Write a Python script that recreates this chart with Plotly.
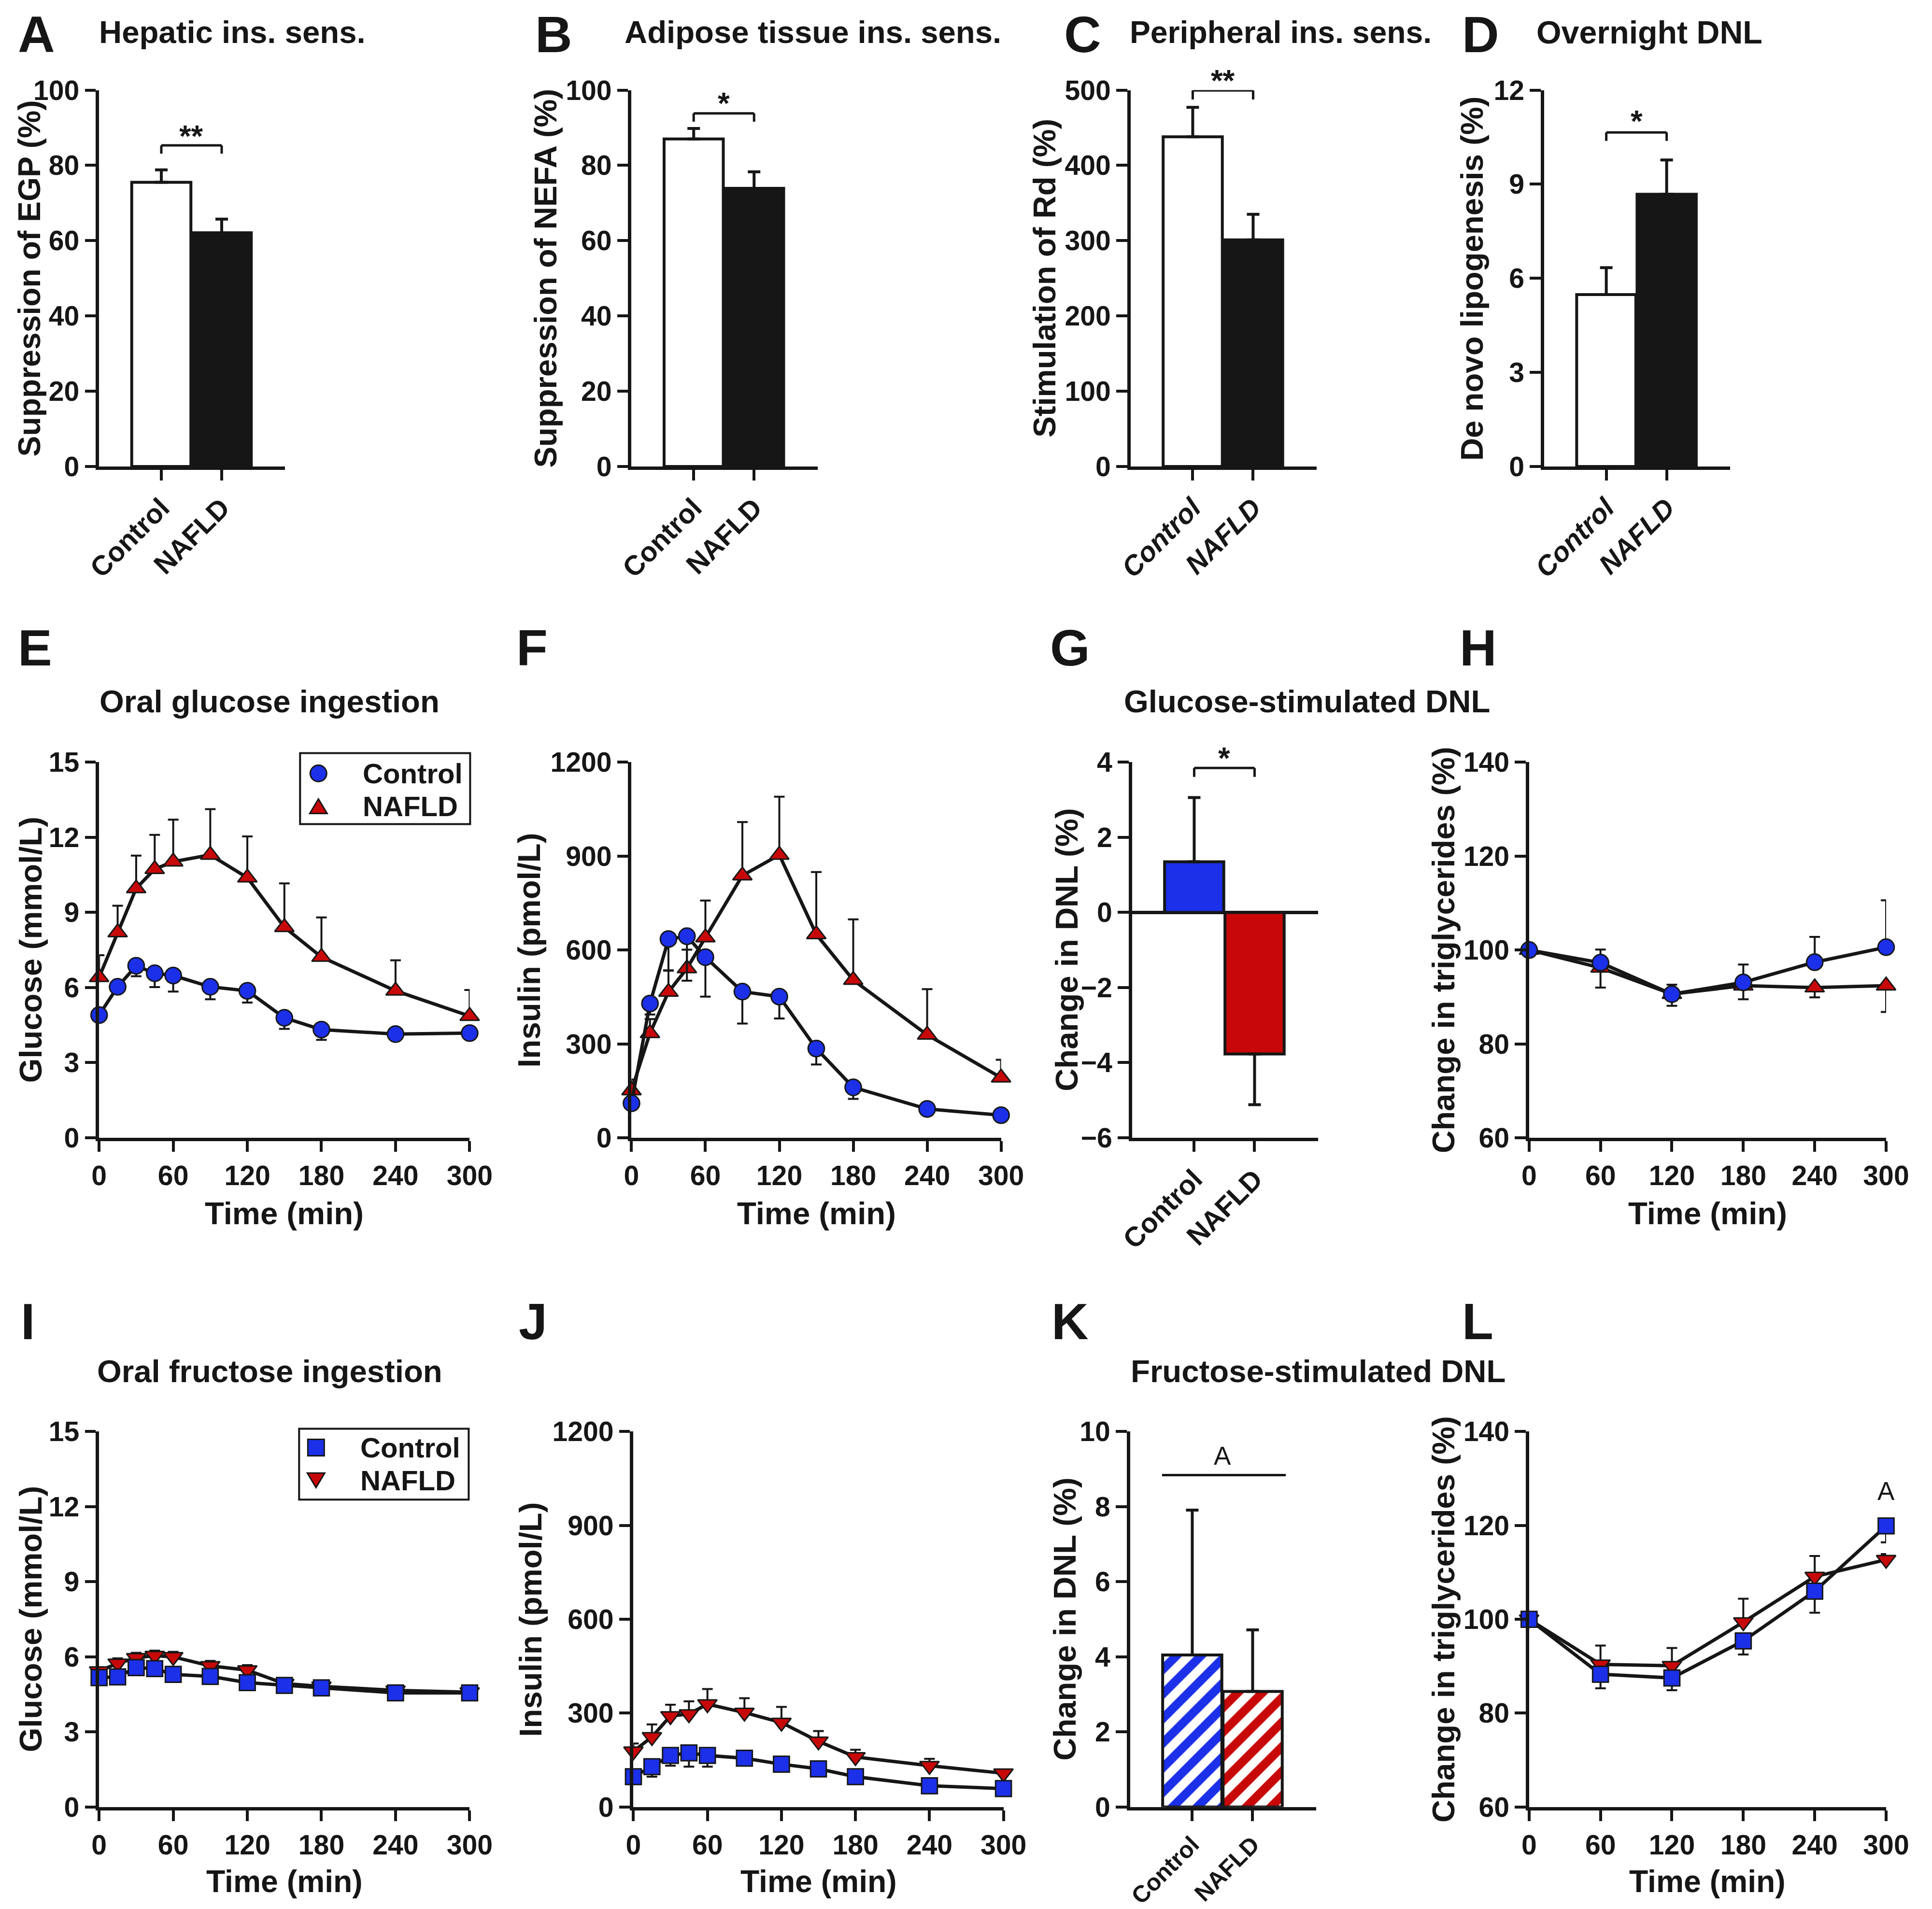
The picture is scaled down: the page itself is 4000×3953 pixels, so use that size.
import plotly.graph_objects as go

# All positions below are given in pixels of the 4000 x 3953 target picture.
# The photographed page shows the figure slightly reduced and shifted,
# after the 8 px body margin; fx/fy undo that mapping.
S_X, S_Y = 0.98, 0.9835
AX, AY = 30, 29.5
BODY = 8
W, H = 3992, 3945

INK = "#161616"
BLUE = "#1b30e8"
RED = "#c80808"
FONT = "Liberation Sans, Arial, Helvetica, sans-serif"

# ---------------- data ----------------
groups = ["Control", "NAFLD"]

egp_supp = [75.5, 62.1]
egp_supp_se = [3.3, 3.6]
nefa_supp = [87.0, 73.9]
nefa_supp_se = [2.8, 4.4]
rd_stim = [438, 301]
rd_stim_se = [39, 34]
dnl_overnight = [5.48, 8.68]
dnl_overnight_se = [0.86, 1.09]
dnl_glucose = [1.35, -3.77]
dnl_glucose_se = [1.71, 1.35]
dnl_fructose = [4.05, 3.08]
dnl_fructose_se = [3.86, 1.64]

time_min = [0, 15, 30, 45, 60, 90, 120, 150, 180, 240, 300]
time_tg = [0, 60, 120, 180, 240, 300]
time_ticks = [0, 60, 120, 180, 240, 300]

glu_ctrl = [4.9, 6.03, 6.87, 6.57, 6.48, 6.03, 5.87, 4.79, 4.32, 4.14, 4.18]
glu_ctrl_se = [0.1, 0.2, 0.42, 0.55, 0.64, 0.5, 0.47, 0.44, 0.41, 0.1, 0.1]
glu_nafld = [6.41, 8.2, 9.96, 10.73, 11.03, 11.3, 10.39, 8.41, 7.22, 5.87, 4.86]
glu_nafld_se = [0.88, 1.07, 1.31, 1.37, 1.68, 1.83, 1.65, 1.75, 1.58, 1.22, 1.04]

ins_ctrl = [110, 429, 635, 644, 577, 467, 451, 285, 161, 92, 72]
ins_ctrl_se = [20, 35, 100, 142, 126, 102, 70, 51, 37, 15, 10]
ins_nafld = [151, 334, 466, 541, 640, 838, 904, 650, 504, 329, 192]
ins_nafld_se = [35, 45, 68, 60, 118, 171, 186, 199, 194, 146, 57]

tg_glu_ctrl = [100, 97.3, 90.6, 93.1, 97.4, 100.6]
tg_glu_ctrl_se = [0, 2.8, 2.0, 3.8, 5.4, 10.0]
tg_glu_nafld = [100, 96.2, 90.6, 92.4, 92.0, 92.4]
tg_glu_nafld_se = [0, 4.2, 2.5, 2.9, 2.1, 5.6]

fglu_ctrl = [5.17, 5.2, 5.57, 5.53, 5.3, 5.22, 4.97, 4.86, 4.76, 4.56, 4.56]
fglu_ctrl_se = [0.15, 0.15, 0.2, 0.2, 0.15, 0.15, 0.15, 0.1, 0.1, 0.1, 0.1]
fglu_nafld = [5.43, 5.74, 5.96, 6.05, 6.0, 5.64, 5.47, 4.93, 4.82, 4.66, 4.59]
fglu_nafld_se = [0.15, 0.2, 0.2, 0.2, 0.2, 0.2, 0.2, 0.1, 0.1, 0.1, 0.1]

fins_ctrl = [97, 129, 165, 173, 165, 156, 137, 122, 97, 68, 59]
fins_ctrl_se = [15, 32, 33, 44, 36, 20, 15, 12, 10, 8, 6]
fins_nafld = [178, 224, 291, 297, 329, 302, 270, 210, 160, 132, 108]
fins_nafld_se = [25, 40, 36, 41, 48, 46, 50, 33, 23, 22, 12]

tg_fru_ctrl = [100, 88.3, 87.5, 95.4, 106.0, 119.9]
tg_fru_ctrl_se = [0, 3.0, 2.6, 2.9, 4.6, 3.5]
tg_fru_nafld = [100, 90.4, 90.1, 99.4, 109.1, 112.7]
tg_fru_nafld_se = [0, 4.0, 3.8, 5.0, 4.4, 1.2]

# significance: (label, bracket level, tick drop, label level)
sig_A = ("**", 85.3, 2.2, 89.6)
sig_B = ("*", 93.8, 2.2, 98.3)
sig_C = ("**", 499.5, 12, 522)
sig_D = ("*", 10.65, 0.27, 11.24)
sig_G = ("*", 3.85, 0.24, 4.3)

# ---------------- helpers ----------------
fig = go.Figure()
axes = {}
annotations = []
shapes = []


def fx(px):
    return ((px - AX) / S_X - BODY) / W


def fy(py):
    return 1 - ((py - AY) / S_Y - BODY) / H


def fs(v):
    return v / S_X


def text(x, y, s, size, weight="bold", xanchor="center",
         yanchor="middle", angle=0):
    annotations.append(dict(xref="paper", yref="paper", x=fx(x), y=fy(y), text=s,
                            showarrow=False, xanchor=xanchor, yanchor=yanchor,
                            textangle=angle,
                            font=dict(family=FONT, size=fs(size), color=INK,
                                      weight=weight)))


def make_axes(n, x0, x1, top, bot, xr, yr, ytick, xtv, xtt, xangle,
              tstyle="normal", tsize=56, xtsize=56, zeroline=False):
    key = "" if n == 1 else str(n)
    common = dict(showline=True, linecolor=INK, linewidth=7, ticks="outside",
                  ticklen=fs(22), tickwidth=6, tickcolor=INK, showgrid=False,
                  fixedrange=True)
    axes["xaxis" + key] = dict(domain=[fx(x0), fx(x1)], range=xr, anchor="y" + key,
                               tickmode="array", tickvals=xtv, ticktext=xtt,
                               tickangle=xangle, zeroline=False,
                               tickfont=dict(family=FONT, size=fs(xtsize), color=INK,
                                             weight="bold", style=tstyle),
                               **common)
    axes["yaxis" + key] = dict(domain=[fy(bot), fy(top)], range=yr, anchor="x" + key,
                               tickmode="array", tickvals=ytick,
                               zeroline=zeroline, zerolinecolor=INK, zerolinewidth=7,
                               tickfont=dict(family=FONT, size=fs(tsize), color=INK,
                                             weight="bold"),
                               **common)
    return "x" + key, "y" + key, (x0, x1, top, bot, xr, yr)


def to_pic(geom, xv, yv):
    x0, x1, top, bot, xr, yr = geom
    px = x0 + (xv - xr[0]) / (xr[1] - xr[0]) * (x1 - x0)
    py = bot - (yv - yr[0]) / (yr[1] - yr[0]) * (bot - top)
    return px, py


def bar_panel(n, x0, top, bot, yr, ytick, means, ses, fills, patterns=None,
              italic=False, zeroline=False, xtsize=56):
    xa, ya, geom = make_axes(n, x0, x0 + 385, top, bot, [-1.03, 2.05], yr, ytick,
                             list(range(len(groups))), groups, -45,
                             tstyle="italic" if italic else "normal",
                             xtsize=xtsize, zeroline=zeroline)
    for i, g in enumerate(groups):
        m, s = means[i], ses[i]
        marker = dict(color=fills[i], line=dict(color=INK, width=6))
        if patterns:
            marker["pattern"] = dict(shape="/", fgcolor=patterns[i], bgcolor="white",
                                     size=36, solidity=0.5, fillmode="replace")
        fig.add_trace(go.Bar(x=[i], y=[m], width=0.98, marker=marker, name=g,
                             xaxis=xa, yaxis=ya, showlegend=False,
                             error_y=dict(type="data", symmetric=False,
                                          array=[s if m >= 0 else 0],
                                          arrayminus=[s if m < 0 else 0],
                                          color=INK, thickness=6, width=13)))
    return xa, ya, geom


def bracket(xa, ya, geom, sig, size=62):
    label, lvl, drop, ty = sig
    for (a, b, c, d) in [(0, lvl, 1, lvl), (0, lvl, 0, lvl - drop), (1, lvl, 1, lvl - drop)]:
        shapes.append(dict(type="line", xref=xa, yref=ya, x0=a, y0=b, x1=c, y1=d,
                           line=dict(color=INK, width=5)))
    px, py = to_pic(geom, 0.5, ty)
    text(px, py + 0.22 * size, label, size)


def line_panel(n, x0, x1, top, bot, yr, ytick, t, series):
    xa, ya, geom = make_axes(n, x0, x1, top, bot, [0, 300], yr, ytick, time_ticks,
                             [str(v) for v in time_ticks], 0)
    for y, se, updir, symbol, color, size in series:
        zeros = [0] * len(se)
        fig.add_trace(go.Scatter(
            x=t, y=y, mode="lines+markers", xaxis=xa, yaxis=ya, showlegend=False,
            cliponaxis=False,
            line=dict(color=INK, width=7),
            marker=dict(symbol=symbol, size=fs(size), color=color,
                        line=dict(color=INK, width=3)),
            error_y=dict(type="data", symmetric=False,
                         array=se if updir else zeros,
                         arrayminus=zeros if updir else se,
                         color=INK, thickness=4, width=11)))
    return xa, ya, geom


ROW1 = (184, 964)
ROW2 = (1577, 2355)
ROW3 = (2964, 3742)
RIGHT = (3164, 3903)

# ---------------- row 1 ----------------
xa, ya, g = bar_panel(1, 204, *ROW1, [0, 100], [0, 20, 40, 60, 80, 100],
                      egp_supp, egp_supp_se, ["white", INK])
bracket(xa, ya, g, sig_A)
xa, ya, g = bar_panel(2, 1306, *ROW1, [0, 100], [0, 20, 40, 60, 80, 100],
                      nefa_supp, nefa_supp_se, ["white", INK])
bracket(xa, ya, g, sig_B)
xa, ya, g = bar_panel(3, 2339, *ROW1, [0, 500], [0, 100, 200, 300, 400, 500],
                      rd_stim, rd_stim_se, ["white", INK], italic=True)
bracket(xa, ya, g, sig_C)
xa, ya, g = bar_panel(4, 3195, *ROW1, [0, 12], [0, 3, 6, 9, 12],
                      dnl_overnight, dnl_overnight_se, ["white", INK], italic=True)
bracket(xa, ya, g, sig_D)

# ---------------- row 2 ----------------
line_panel(5, 204, 971, *ROW2, [0, 15], [0, 3, 6, 9, 12, 15], time_min, [
    (glu_nafld, glu_nafld_se, True, "triangle-up", RED, 34),
    (glu_ctrl, glu_ctrl_se, False, "circle", BLUE, 33)])
line_panel(6, 1306, 2071, *ROW2, [0, 1200], [0, 300, 600, 900, 1200], time_min, [
    (ins_nafld, ins_nafld_se, True, "triangle-up", RED, 34),
    (ins_ctrl, ins_ctrl_se, False, "circle", BLUE, 33)])
xa, ya, g = bar_panel(7, 2342, *ROW2, [-6, 4], [-6, -4, -2, 0, 2, 4],
                      dnl_glucose, dnl_glucose_se, [BLUE, RED], zeroline=True)
bracket(xa, ya, g, sig_G)
line_panel(8, *RIGHT, *ROW2, [60, 140], [60, 80, 100, 120, 140], time_tg, [
    (tg_glu_nafld, tg_glu_nafld_se, False, "triangle-up", RED, 34),
    (tg_glu_ctrl, tg_glu_ctrl_se, True, "circle", BLUE, 33)])

# ---------------- row 3 ----------------
line_panel(9, 204, 971, *ROW3, [0, 15], [0, 3, 6, 9, 12, 15], time_min, [
    (fglu_nafld, fglu_nafld_se, True, "triangle-down", RED, 34),
    (fglu_ctrl, fglu_ctrl_se, False, "square", BLUE, 32)])
line_panel(10, 1310, 2076, *ROW3, [0, 1200], [0, 300, 600, 900, 1200], time_min, [
    (fins_nafld, fins_nafld_se, True, "triangle-down", RED, 34),
    (fins_ctrl, fins_ctrl_se, False, "square", BLUE, 32)])
xa, ya, g = bar_panel(11, 2338, *ROW3, [0, 10], [0, 2, 4, 6, 8, 10],
                      dnl_fructose, dnl_fructose_se, ["white", "white"],
                      patterns=[BLUE, RED], xtsize=48)
shapes.append(dict(type="line", xref=xa, yref=ya, x0=-0.5, x1=1.55, y0=8.84, y1=8.84,
                   line=dict(color=INK, width=5)))
px, py = to_pic(g, 0.5, 9.35)
text(px, py, "A", 52, weight="normal")
xa, ya, g = line_panel(12, *RIGHT, *ROW3, [60, 140], [60, 80, 100, 120, 140], time_tg, [
    (tg_fru_nafld, tg_fru_nafld_se, True, "triangle-down", RED, 34),
    (tg_fru_ctrl, tg_fru_ctrl_se, False, "square", BLUE, 32)])
px, py = to_pic(g, 300, 127.3)
text(px, py, "A", 52, weight="normal")

# ---------------- titles / letters ----------------
text(34, 68, "A", 104, xanchor="left")
text(1105, 68, "B", 104, xanchor="left")
text(2199, 68, "C", 104, xanchor="left")
text(3023, 68, "D", 104, xanchor="left")
text(34, 1339, "E", 104, xanchor="left")
text(1066, 1339, "F", 104, xanchor="left")
text(2170, 1339, "G", 104, xanchor="left")
text(3018, 1339, "H", 104, xanchor="left")
text(40, 2735, "I", 104, xanchor="left")
text(1071, 2735, "J", 104, xanchor="left")
text(2173, 2735, "K", 104, xanchor="left")
text(3023, 2735, "L", 104, xanchor="left")

text(480, 64, "Hepatic ins. sens.", 64)
text(1681, 64, "Adipose tissue ins. sens.", 64)
text(2650, 64, "Peripheral ins. sens.", 63)
text(3413, 64, "Overnight DNL", 65)
text(557, 1451, "Oral glucose ingestion", 64)
text(2704, 1451, "Glucose-stimulated DNL", 64)
text(557, 2839, "Oral fructose ingestion", 64)
text(2727, 2839, "Fructose-stimulated DNL", 64)


def yc(row):
    return (row[0] + row[1]) / 2


text(60, yc(ROW1), "Suppression of EGP (%)", 63, angle=-90)
text(1128, yc(ROW1), "Suppression of NEFA (%)", 64, angle=-90)
text(2161, yc(ROW1), "Stimulation of Rd (%)", 64, angle=-90)
text(3045, yc(ROW1), "De novo lipogenesis (%)", 64, angle=-90)
text(62, yc(ROW2), "Glucose (mmol/L)", 64, angle=-90)
text(1094, yc(ROW2), "Insulin (pmol/L)", 64, angle=-90)
text(2207, yc(ROW2), "Change in DNL (%)", 64, angle=-90)
text(2986, yc(ROW2), "Change in triglycerides (%)", 64, angle=-90)
text(62, yc(ROW3), "Glucose (mmol/L)", 64, angle=-90)
text(1097, yc(ROW3), "Insulin (pmol/L)", 64, angle=-90)
text(2203, yc(ROW3), "Change in DNL (%)", 64, angle=-90)
text(2986, yc(ROW3), "Change in triglycerides (%)", 64, angle=-90)

for (a, b) in [(204, 971), (1306, 2071), RIGHT]:
    text((a + b) / 2, 2512, "Time (min)", 64)
for (a, b) in [(204, 971), (1310, 2076), RIGHT]:
    text((a + b) / 2, 3896, "Time (min)", 63)


# ---------------- manual legends ----------------
def legend_box(x0, y0, x1, y1):
    shapes.append(dict(type="rect", xref="paper", yref="paper", x0=fx(x0), x1=fx(x1),
                       y0=fy(y1), y1=fy(y0), line=dict(color=INK, width=4),
                       fillcolor="white"))


def legend_circle(cx, cy, r, color):
    shapes.append(dict(type="circle", xref="paper", yref="paper", x0=fx(cx - r),
                       x1=fx(cx + r), y0=fy(cy + r), y1=fy(cy - r),
                       fillcolor=color, line=dict(color=INK, width=3)))


def legend_square(cx, cy, r, color):
    shapes.append(dict(type="rect", xref="paper", yref="paper", x0=fx(cx - r),
                       x1=fx(cx + r), y0=fy(cy + r), y1=fy(cy - r),
                       fillcolor=color, line=dict(color=INK, width=3)))


def legend_tri(cx, cy, w, h, color, up=True):
    if up:
        pts = [(cx - w / 2, cy + h / 2), (cx + w / 2, cy + h / 2), (cx, cy - h / 2)]
    else:
        pts = [(cx - w / 2, cy - h / 2), (cx + w / 2, cy - h / 2), (cx, cy + h / 2)]
    path = "M " + " L ".join(f"{fx(px):.6f},{fy(py):.6f}" for px, py in pts) + " Z"
    shapes.append(dict(type="path", xref="paper", yref="paper", path=path,
                       fillcolor=color, line=dict(color=INK, width=3)))


legend_box(620, 1558, 972, 1705)
legend_circle(658, 1600, 17, BLUE)
legend_tri(658, 1668, 36, 30, RED, up=True)
text(748, 1600, "Control", 57, xanchor="left")
text(748, 1668, "NAFLD", 57, xanchor="left")

legend_box(618, 2958, 969, 3105)
legend_square(653, 2997, 17, BLUE)
legend_tri(653, 3065, 36, 30, RED, up=False)
text(743, 2997, "Control", 57, xanchor="left")
text(743, 3065, "NAFLD", 57, xanchor="left")

fig.update_layout(width=W, height=H, margin=dict(l=0, r=0, t=0, b=0),
                  paper_bgcolor="white", plot_bgcolor="rgba(0,0,0,0)",
                  showlegend=False, barmode="overlay",
                  annotations=annotations, shapes=shapes, **axes)

fig.write_html("out.html")
